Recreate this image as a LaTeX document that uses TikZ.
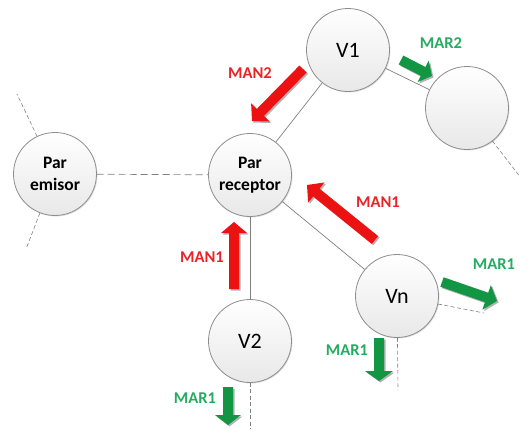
\documentclass[tikz,border=0pt]{standalone}
\usepackage{fontspec}
\setmainfont{Carlito}
\usetikzlibrary{calc,shadows}

\definecolor{arrred}{RGB}{236,18,18}
\definecolor{txtred}{RGB}{232,36,40}
\definecolor{arrgreen}{RGB}{18,150,68}
\definecolor{txtgreen}{RGB}{38,172,96}
\definecolor{linegray}{RGB}{128,128,128}

% Block arrow: #1 style, #2 tail, #3 tip, #4 half shaft width, #5 half head width, #6 head length
\newcommand\blockarr[6]{%
  \coordinate (ba-c) at ($(#3)!#6!(#2)$);
  \fill[#1, drop shadow={shadow xshift=1.5pt, shadow yshift=-1.5pt, opacity=.3, fill=black}]
    ($(#2)!#4!90:(#3)$) -- ($(ba-c)!#4!-90:(#2)$) -- ($(ba-c)!#5!-90:(#2)$) --
    (#3) -- ($(ba-c)!#5!90:(#2)$) -- ($(ba-c)!#4!90:(#2)$) -- ($(#2)!#4!-90:(#3)$) -- cycle;
}

\begin{document}
\begin{tikzpicture}[x=1pt,y=-1pt,
  peer/.style={circle, minimum size=83pt, inner sep=0pt, draw=linegray!90, line width=0.8pt,
    top color=white, bottom color=black!9,
    drop shadow={shadow xshift=1pt, shadow yshift=-1pt, opacity=.12, fill=black}},
  pairtext/.style={font=\fontsize{17.5}{22}\selectfont\bfseries, align=center},
  vtext/.style={font=\fontsize{22}{24}\selectfont},
  link/.style={draw=linegray, line width=0.7pt},
  dlink/.style={draw=linegray, line width=0.7pt, dash pattern=on 7pt off 4pt},
  openlink/.style={draw=linegray, line width=0.6pt, dash pattern=on 4pt off 2.5pt},
  redlbl/.style={font=\fontsize{16.5}{18}\selectfont\bfseries, text=txtred},
  greenlbl/.style={font=\fontsize{16.5}{18}\selectfont\bfseries, text=txtgreen}]

\useasboundingbox (0,0) rectangle (520,429);

% peer positions (the circles themselves are drawn after the links)
\coordinate (emP) at (55,174);
\coordinate (rcP) at (250,175);
\coordinate (v1P) at (348,50);
\coordinate (vxP) at (467,108);
\coordinate (vnP) at (397,296);
\coordinate (v2P) at (250,341);

% invisible copies give the links their borders
\path (emP) node[circle, minimum size=83pt, inner sep=0pt] (em) {};
\path (rcP) node[circle, minimum size=83pt, inner sep=0pt] (rc) {};
\path (v1P) node[circle, minimum size=83pt, inner sep=0pt] (v1) {};
\path (vxP) node[circle, minimum size=83pt, inner sep=0pt] (vx) {};
\path (vnP) node[circle, minimum size=83pt, inner sep=0pt] (vn) {};
\path (v2P) node[circle, minimum size=83pt, inner sep=0pt] (v2) {};

% open ends of dashed links
\coordinate (emA) at (17,94);
\coordinate (emB) at (26,249);
\coordinate (vxA) at (521,178);
\coordinate (vnA) at (484,313);
\coordinate (vnB) at (398,390);
\coordinate (v2A) at (250,429);

% links
\path[dlink] (em) -- (rc);
\path[openlink] (em) -- (emA);
\path[openlink] (em) -- (emB);
\path[link] (rc) -- (v1);
\path[link] (v1) -- (vx);
\path[openlink] (vx) -- (vxA);
\path[link] (rc) -- (vn);
\path[link] (rc) -- (v2);
\path[openlink] (v2) -- (v2A);
\path[openlink] (vn) -- (vnA);
\path[openlink] (vn) -- (vnB);

% peers
\node[peer, pairtext] (emN) at (emP) {Par\\emisor};
\node[peer, pairtext] (rcN) at (rcP) {Par\\receptor};
\node[peer, vtext] (v1N) at (v1P) {V1};
\node[peer] (vxN) at (vxP) {};
\node[peer, vtext] (vnN) at (vnP) {Vn};
\node[peer, vtext] (v2N) at (v2P) {V2};

% arrow end points
\coordinate (m2t) at (303,69);
\coordinate (m2h) at (252,121);
\coordinate (m1at) at (375,240);
\coordinate (m1ah) at (307,185);
\coordinate (m1bt) at (234,289);
\coordinate (m1bh) at (234,222);
\coordinate (r2t) at (401,60);
\coordinate (r2h) at (432,76);
\coordinate (r1at) at (442,282);
\coordinate (r1ah) at (497,301);
\coordinate (r1bt) at (379,338);
\coordinate (r1bh) at (379,381);
\coordinate (r1ct) at (228,387);
\coordinate (r1ch) at (228,425);

% messages towards the receiver
\blockarr{arrred}{m2t}{m2h}{5pt}{13pt}{12pt}
\blockarr{arrred}{m1at}{m1ah}{5pt}{13pt}{12pt}
\blockarr{arrred}{m1bt}{m1bh}{5pt}{13pt}{11pt}

% messages going further
\blockarr{arrgreen}{r2t}{r2h}{5pt}{12pt}{10pt}
\blockarr{arrgreen}{r1at}{r1ah}{5pt}{13pt}{11pt}
\blockarr{arrgreen}{r1bt}{r1bh}{5pt}{14pt}{10pt}
\blockarr{arrgreen}{r1ct}{r1ch}{5pt}{13pt}{10pt}

% labels
\node[redlbl] (lm2) at (250,73) {MAN2};
\node[redlbl] (lm1a) at (378,202) {MAN1};
\node[redlbl] (lm1b) at (202,257) {MAN1};
\node[greenlbl] (lr2) at (441,43) {MAR2};
\node[greenlbl] (lr1a) at (494,264) {MAR1};
\node[greenlbl] (lr1b) at (347,350) {MAR1};
\node[greenlbl] (lr1c) at (195,398) {MAR1};
\end{tikzpicture}
\end{document}
